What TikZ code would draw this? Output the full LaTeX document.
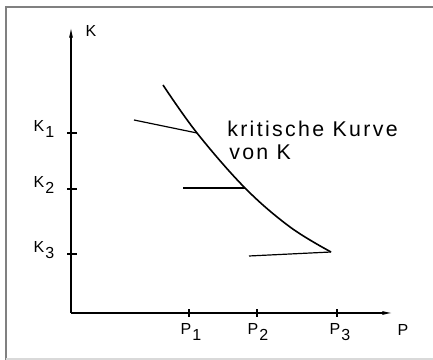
\documentclass[tikz,border=0pt]{standalone}
\usepackage{fontspec}
\setmainfont{Liberation Sans}
\newfontfamily\beschrift[LetterSpace=11]{Liberation Sans}
\usepackage{tikz}
\usetikzlibrary{arrows.meta}
\newcommand{\sublbl}[2]{#1\kern0.8pt\raisebox{-0.6ex}{#2}}

\begin{document}
\begin{tikzpicture}[x=0.75pt,y=0.75pt,every node/.style={font=\fontsize{12}{14}\selectfont,inner sep=0pt}]
\useasboundingbox (0,0) rectangle (433,360);
\draw[gray,line width=1.3pt] (6,0) -- (6,353) -- (433,353);
\draw[gray!30,line width=0.8pt] (6,1) -- (433,1);
\coordinate (O) at (71,47);
\coordinate (Ktop) at (71,333);
\coordinate (Pend) at (393,47);
\draw[line width=1pt,-{Latex[length=8pt,width=3pt]}] (O) -- (Ktop);
\draw[line width=1pt,-{Latex[length=8pt,width=3pt]}] (O) -- (Pend);
\node (K) at (91,329) {K};
\node (P) at (403,30) {P};
\foreach \y/\n in {227/1,171/2,106/3} {
  \draw[line width=0.8pt] (67,\y) -- (77,\y);
  \node[anchor=base] (k\n) at (44,\y+1) {\sublbl{K}{\n}};
}
\foreach \x/\n/\lx in {189/1/191,257/2/258,337/3/340} {
  \draw[line width=0.8pt] (\x,43) -- (\x,51);
  \node[anchor=base] (p\n) at (\lx,25) {\sublbl{P}{\n}};
}
\coordinate (c0) at (163,275);
\coordinate (c1) at (197,227);
\coordinate (c2) at (245,172);
\coordinate (c3) at (290,133);
\coordinate (c4) at (331,108);
\draw[line width=1.2pt] plot[smooth,tension=0.6] coordinates {(c0) (c1) (c2) (c3) (c4)};
\coordinate (t1) at (134,240);
\coordinate (t2) at (183,172);
\coordinate (t3) at (249,104);
\draw[line width=0.9pt] (t1) -- (c1);
\draw[line width=0.9pt] (t2) -- (c2);
\draw[line width=0.9pt] (t3) -- (c4);
\node[anchor=base west,font=\beschrift\fontsize{16}{19}\selectfont] (krit) at (227,223) {kritische Kurve};
\node[anchor=base west,font=\beschrift\fontsize{16}{19}\selectfont] (von) at (229,200) {von K};
\end{tikzpicture}
\end{document}
